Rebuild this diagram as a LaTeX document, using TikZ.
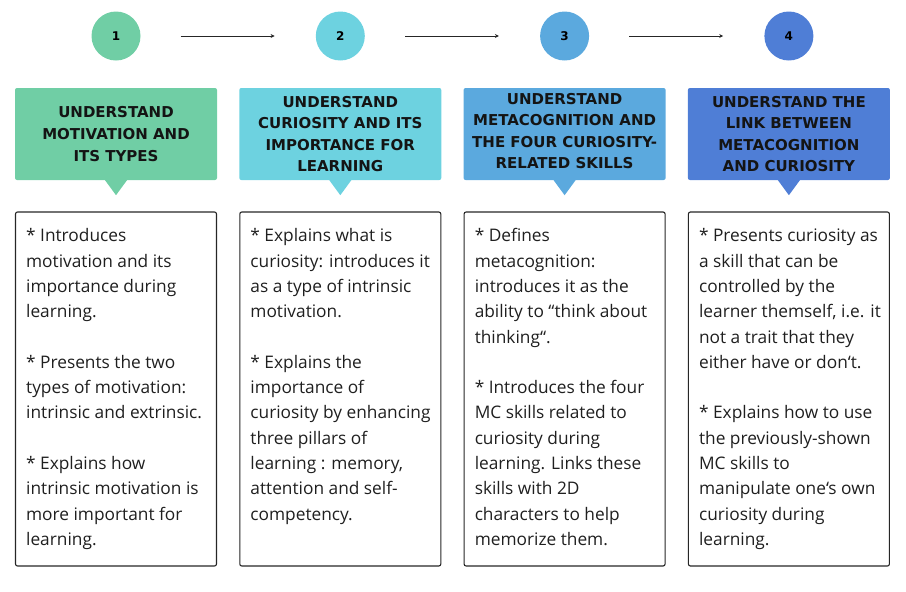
\documentclass[tikz,border=0pt]{standalone}
\usepackage{fontspec}
\setmainfont{Open Sans}
\newfontfamily\headfont{DejaVu Sans}
\usetikzlibrary{arrows.meta}
\definecolor{stepA}{HTML}{70CEA5}
\definecolor{stepB}{HTML}{6DD2E0}
\definecolor{stepC}{HTML}{5BA9DE}
\definecolor{stepD}{HTML}{4F7ED6}
\tikzset{
  stepcirc/.style={circle,fill=#1,minimum size=49pt,inner sep=0pt,
    font=\headfont\bfseries\fontsize{12}{14}\selectfont},
  headbox/.style={fill=#1,rounded corners=2pt,minimum width=202pt,minimum height=92pt,inner sep=0pt},
  headtext/.style={align=center,inner sep=0pt,text=black!92,
    font=\headfont\bfseries\fontsize{15}{21.6}\selectfont},
  infobox/.style={draw=black!85,line width=1.1pt,rounded corners=2pt,
    minimum width=201pt,minimum height=354pt,inner sep=0pt},
  infotext/.style={anchor=north west,align=left,inner sep=0pt,text=black!88,
    font=\fontsize{17.3}{25.3}\selectfont},
}
\begin{document}
\begin{tikzpicture}[x=1pt,y=-1pt]
  \useasboundingbox (0,0) rectangle (906,592);
  \foreach \i/\col in {1/stepA,2/stepB,3/stepC,4/stepD}{
    \node[stepcirc=\col] (step\i) at (116+224.3*\i-224.3,36) {\i};
    \node[headbox=\col] (head\i) at (116+224.3*\i-224.3,134) {};
    \fill[\col] (head\i.south) ++(-11,0) -- ++(11,15) -- ++(11,-15) -- cycle;
    \node[infobox] (info\i) at (116+224.3*\i-224.3,389) {};
  }
  \foreach \a/\b in {1/2,2/3,3/4}
    \draw[black!85,line width=0.8pt,-{Stealth[length=4pt,width=4pt]},
      shorten <=40pt,shorten >=41pt] (step\a) -- (step\b);

  \node[headtext] (title1) at (head1) {UNDERSTAND\\MOTIVATION AND\\ITS TYPES};
  \node[headtext] (title2) at (head2) {UNDERSTAND\\CURIOSITY AND ITS\\IMPORTANCE FOR\\LEARNING};
  \node[headtext] (title3) at ([yshift=3pt]head3) {UNDERSTAND\\METACOGNITION AND\\THE FOUR CURIOSITY-\\RELATED SKILLS};
  \node[headtext] (title4) at (head4) {UNDERSTAND THE\\LINK BETWEEN\\METACOGNITION\\AND CURIOSITY};

  \node[infotext] (text1) at ([xshift=11pt,yshift=-17pt]info1.north west)
    {* Introduces\\motivation and its\\importance during\\learning.\\[25.3pt]
     * Presents the two\\types of motivation:\\intrinsic and extrinsic.\\[25.3pt]
     * Explains how\\intrinsic motivation is\\more important for\\learning.};
  \node[infotext] (text2) at ([xshift=11pt,yshift=-17pt]info2.north west)
    {* Explains what is\\curiosity: introduces it\\as a type of intrinsic\\motivation.\\[25.3pt]
     * Explains the\\importance of\\curiosity by enhancing\\three pillars of\\learning : memory,\\attention and self-\\competency.};
  \node[infotext] (text3) at ([xshift=11pt,yshift=-17pt]info3.north west)
    {* Defines\\metacognition:\\introduces it as the\\ability to “think about\\thinking“.\\[25.3pt]
     * Introduces the four\\MC skills related to\\curiosity during\\learning. Links these\\skills with 2D\\characters to help\\memorize them.};
  \node[infotext] (text4) at ([xshift=11pt,yshift=-17pt]info4.north west)
    {* Presents curiosity as\\a skill that can be\\controlled by the\\learner themself, i.e. it\\not a trait that they\\either have or don‘t.\\[25.3pt]
     * Explains how to use\\the previously-shown\\MC skills to\\manipulate one‘s own\\curiosity during\\learning.};
\end{tikzpicture}
\end{document}
